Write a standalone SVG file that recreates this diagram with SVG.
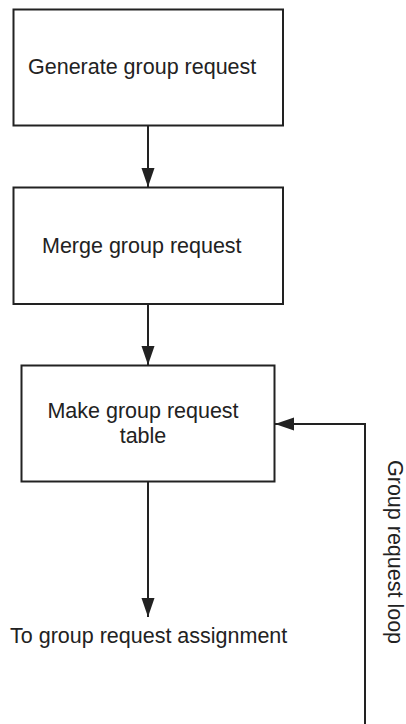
<svg xmlns="http://www.w3.org/2000/svg" width="406" height="724" viewBox="0 0 406 724">
<style>
.box{fill:#fff;stroke:#222;stroke-width:2}
.lbl{font-family:"Liberation Sans",Arial,sans-serif;font-size:21.5px;fill:#222}
.ln{fill:none;stroke:#222;stroke-width:2}
</style>
<defs>
<marker id="ah" markerUnits="userSpaceOnUse" markerWidth="20" markerHeight="14" refX="19" refY="6.5" orient="auto">
<path d="M0,0 L19,6.5 L0,13 Z" fill="#222"/>
</marker>
</defs>
<rect width="406" height="724" fill="#fff"/>
<g id="connectors">
<line class="ln" x1="148" y1="125" x2="148" y2="187" marker-end="url(#ah)"/>
<line class="ln" x1="148" y1="304" x2="148" y2="365" marker-end="url(#ah)"/>
<line class="ln" x1="148" y1="482" x2="148" y2="617" marker-end="url(#ah)"/>
<polyline class="ln" points="365,724 365,424 275,424" marker-end="url(#ah)"/>
</g>
<g id="n1">
<rect class="box" x="13.5" y="9.5" width="269.5" height="116"/>
<text class="lbl" x="28" y="74">Generate group request</text>
</g>
<g id="n2">
<rect class="box" x="13.5" y="187.5" width="269.5" height="116.5"/>
<text class="lbl" x="42" y="252.5">Merge group request</text>
</g>
<g id="n3">
<rect class="box" x="21.5" y="365.5" width="253" height="116"/>
<text class="lbl" x="143" y="418" text-anchor="middle">Make group request</text>
<text class="lbl" x="143" y="443" text-anchor="middle">table</text>
</g>
<g id="out">
<text class="lbl" x="10" y="643">To group request assignment</text>
</g>
<g id="loop">
<text class="lbl" transform="translate(388,460) rotate(90)">Group request loop</text>
</g>
</svg>
